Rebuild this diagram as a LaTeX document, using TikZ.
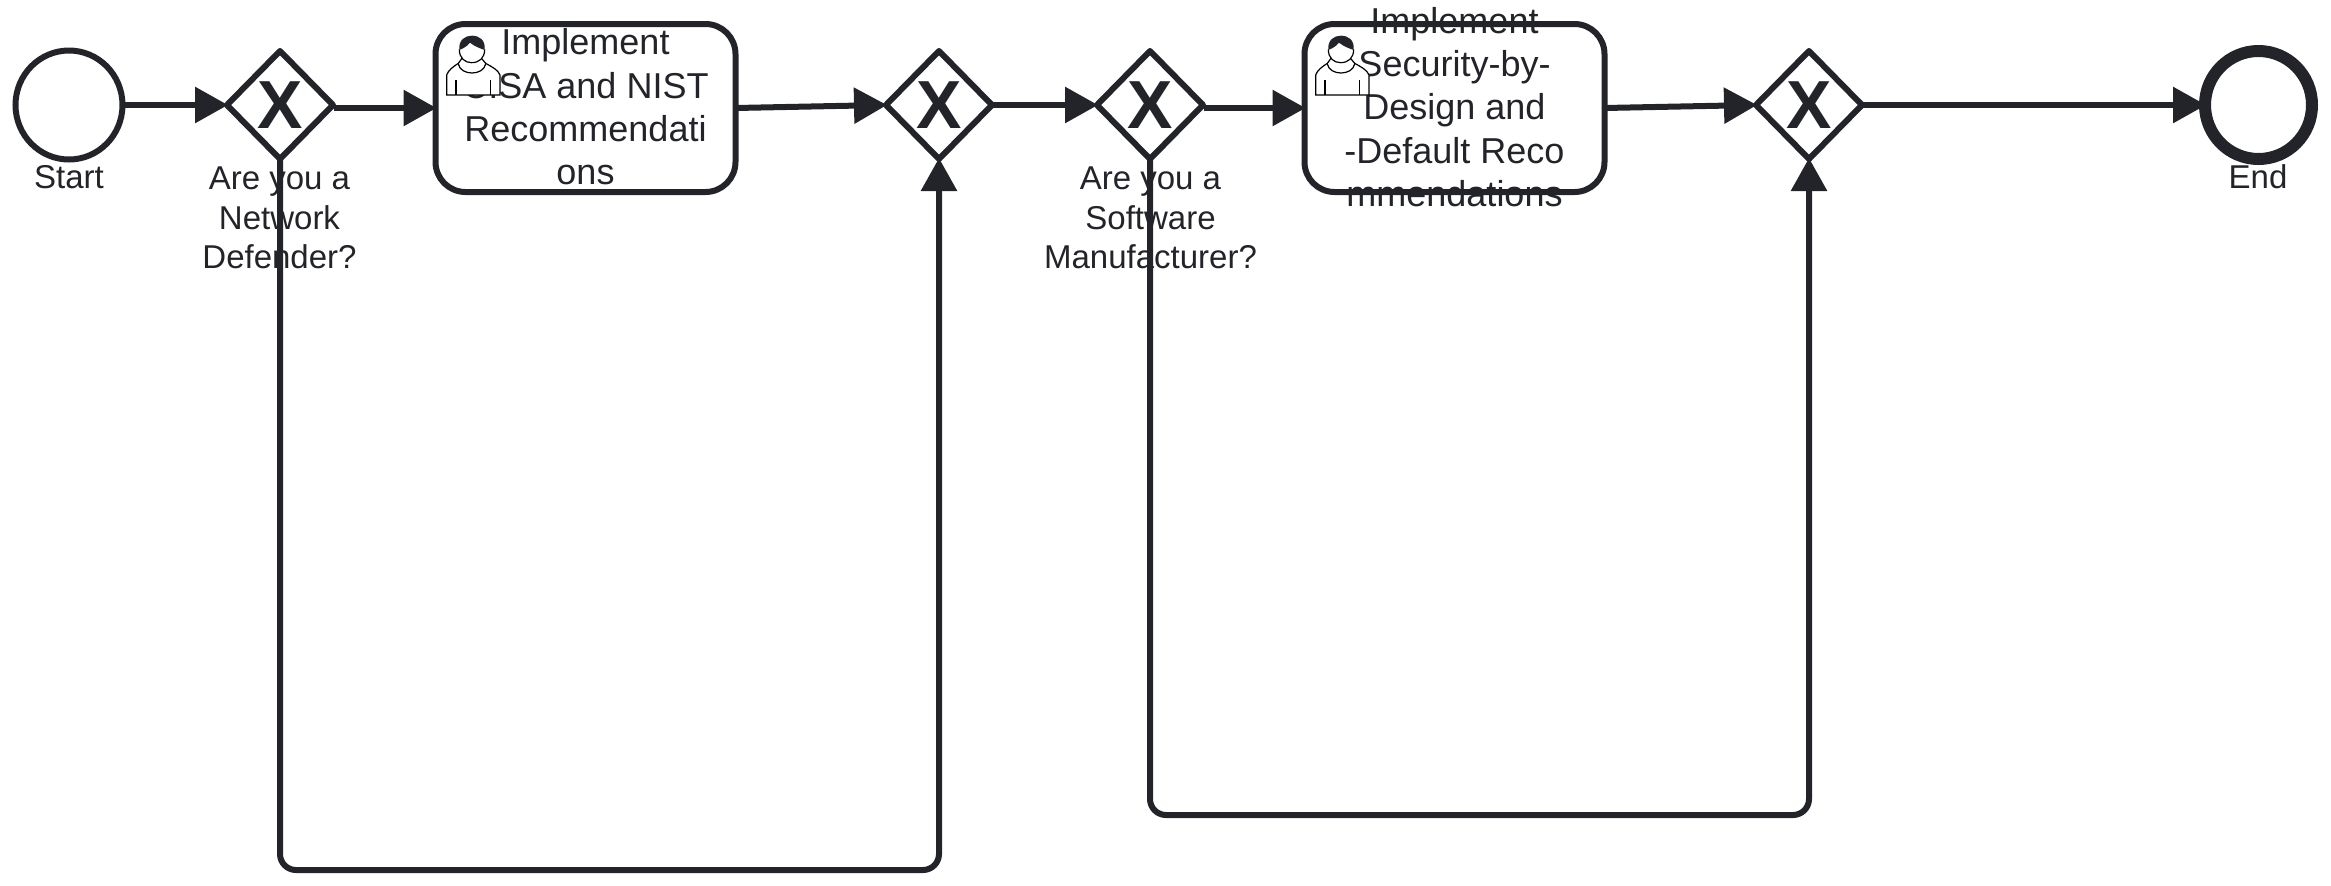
\documentclass[tikz,border=0pt]{standalone}
\usepackage{fontspec}
\setmainfont{Liberation Sans}
\usetikzlibrary{arrows.meta,shapes.geometric}
\definecolor{ink}{HTML}{22242A}
\tikzset{
  x=0.5pt,y=-0.5pt,
  flowline/.style={draw=ink,line width=3pt,-{Triangle[length=16.5pt,width=17.5pt]},shorten >=-0.5pt},
  loopline/.style={flowline,rounded corners=8pt},
  gatewaybox/.style={shape=diamond,draw=ink,fill=white,line width=3pt,line join=round,minimum width=53pt,minimum height=54pt,inner sep=0pt,outer sep=0pt,text=ink,font=\bfseries\fontsize{34}{34}\selectfont},
  startevent/.style={shape=ellipse,draw=ink,fill=white,line width=3pt,minimum width=53.5pt,minimum height=54.5pt,inner sep=0pt,outer sep=0pt},
  endevent/.style={shape=ellipse,draw=ink,fill=white,line width=6pt,minimum width=53.5pt,minimum height=54pt,inner sep=0pt,outer sep=0pt},
  taskbox/.style={shape=rectangle,rounded corners=15pt,draw=ink,fill=white,line width=3pt,minimum width=150pt,minimum height=84pt,inner sep=0pt,outer sep=0pt},
  tasktext/.style={align=center,text=ink,inner sep=0pt,font=\fontsize{18}{21.65}\selectfont},
  eventlabel/.style={align=center,text=ink,inner sep=0pt,font=\fontsize{16.5}{19.75}\selectfont},
  personicon/.pic={
    \begin{scope}[scale=1/3,line width=0.6pt,draw=black]
      \fill[white] (115,130) .. controls (100,140) and (85,150) .. (80,165) -- (80,225) -- (240,225) -- (240,165) .. controls (235,150) and (215,140) .. (197,130) -- (182,112) -- (128,112) -- cycle;
      \draw (128,112) -- (115,130) .. controls (100,140) and (85,150) .. (80,165) -- (80,225) -- (240,225) -- (240,165) .. controls (235,150) and (215,140) .. (197,130) -- (182,112);
      \fill[white] (118,88) .. controls (118,115) and (135,128) .. (155,128) .. controls (177,128) and (194,115) .. (194,88) -- cycle;
      \draw (118,88) .. controls (118,115) and (135,128) .. (155,128) .. controls (177,128) and (194,115) .. (194,88);
      \fill[ink] (118,90) .. controls (115,60) and (135,47) .. (156,47) .. controls (178,47) and (197,60) .. (194,90) .. controls (180,85) and (165,80) .. (150,68) .. controls (140,80) and (130,85) .. (118,90) -- cycle;
      \draw (115,132) .. controls (122,168) and (190,168) .. (197,132);
      \draw (108,180) -- (108,225);
      \draw (212,180) -- (212,225);
    \end{scope}
  }
}
\begin{document}
\begin{tikzpicture}
\useasboundingbox (0,0) rectangle (2331,885);
% shapes
\node[startevent] (start) at (69,105) {};
\node[gatewaybox] (gwa) at (280,105) {X};
\node[taskbox] (taska) at (585.5,108) {};
\node[gatewaybox] (gwb) at (939,105) {X};
\node[gatewaybox] (gwc) at (1150,105) {X};
\node[taskbox] (taskb) at (1454.5,108) {};
\node[gatewaybox] (gwd) at (1809,105) {X};
\node[endevent] (stop) at (2258.5,105) {};
% texts
\node[tasktext] (ta) at (585.5,107) {Implement\\CISA and NIST\\Recommendati\\ons};
\node[tasktext] (tb) at (1454.5,107) {Implement\\Security-by-\\Design and\\-Default Reco\\mmendations};
\node[eventlabel] (lstart) at (69,177) {Start};
\node[eventlabel] (la) at (279.5,218) {Are you a\\Network\\Defender?};
\node[eventlabel] (lc) at (1150.5,218) {Are you a\\Software\\Manufacturer?};
\node[eventlabel] (lstop) at (2258,177) {End};
% user markers
\pic at (420,20) {personicon};
\pic at (1289,20) {personicon};
% routing points
\coordinate (ca) at (0,870);
\coordinate (cb) at (0,815);
\coordinate (gwaout) at (334,108);
\coordinate (gwcout) at (1204,108);
% connectors
\draw[flowline] (start.east) -- (gwa.west);
\draw[flowline] (gwaout) -- (taska.west);
\draw[flowline] (taska.east) -- (gwb.west);
\draw[flowline] (gwb.east) -- (gwc.west);
\draw[flowline] (gwcout) -- (taskb.west);
\draw[flowline] (taskb.east) -- (gwd.west);
\draw[flowline] (gwd.east) -- (stop.west);
\draw[loopline] (gwa.south) -- (gwa.south |- ca) -- (gwb.south |- ca) -- (gwb.south);
\draw[loopline] (gwc.south) -- (gwc.south |- cb) -- (gwd.south |- cb) -- (gwd.south);
\end{tikzpicture}
\end{document}
